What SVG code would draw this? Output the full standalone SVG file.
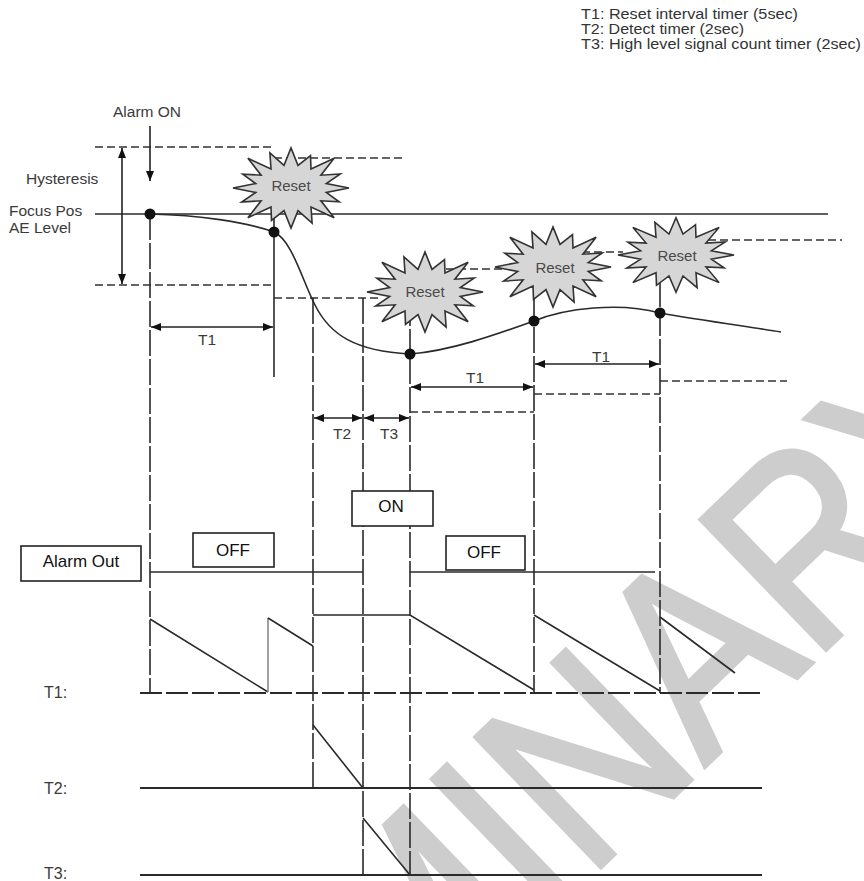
<svg xmlns="http://www.w3.org/2000/svg" width="864" height="881" viewBox="0 0 864 881">
<style>
.ln{stroke:#2a2a2a;stroke-width:1.6;fill:none}
.vl{stroke:#2a2a2a;stroke-width:1.6;fill:none;stroke-dasharray:26 3}
.ds{stroke:#333;stroke-width:1.6;fill:none;stroke-dasharray:8 4}
.bl{stroke:#2a2a2a;stroke-width:1.8;fill:none;stroke-dasharray:22 4}
.ar{stroke:#222;stroke-width:1.6;fill:none;marker-start:url(#ah);marker-end:url(#ah)}
.t{font-family:"Liberation Sans",Arial,sans-serif;font-size:15.5px;fill:#3a3a3a}
.lg{font-family:"Liberation Sans",Arial,sans-serif;font-size:14.5px;fill:#333}
.bx{fill:#fff;stroke:#222;stroke-width:1.6}
.bt{font-family:"Liberation Sans",Arial,sans-serif;font-size:17px;fill:#111;text-anchor:middle}
.burst{fill:#d6d6d6;stroke:#333;stroke-width:1.6;stroke-linejoin:miter}
.rt{font-family:"Liberation Sans",Arial,sans-serif;font-size:15px;fill:#4a4a4a;text-anchor:middle}
.dot{fill:#111}
.wm{font-family:"Liberation Sans",Arial,sans-serif;font-size:262px;fill:#cdcdcd;stroke:#cdcdcd;stroke-width:5;stroke-linejoin:miter}
</style>
<defs>
<marker id="ah" viewBox="0 0 10 8" refX="10" refY="4" markerWidth="10" markerHeight="8" markerUnits="userSpaceOnUse" orient="auto-start-reverse">
<path d="M0,0 L10,4 L0,8 Z" fill="#111"/>
</marker>
<path id="star" d="M58,0 L35.3,4.5 L48.2,13.8 L29.9,12.8 L43.1,29.7 L20,19.1 L21.1,35.1 L7,22.6 L0,40 L-7,22.6 L-19.5,32.5 L-20,19.1 L-43.1,29.7 L-29.9,12.8 L-49.3,14.1 L-35.3,4.5 L-58,0 L-35.3,-4.5 L-48.2,-13.8 L-29.9,-12.8 L-43.1,-29.7 L-20,-19.1 L-21.1,-35.1 L-7,-22.6 L0,-40 L7,-22.6 L19.5,-32.5 L20,-19.1 L43.1,-29.7 L29.9,-12.8 L49.3,-14.1 L35.3,-4.5 Z"/>
</defs>
<rect width="864" height="881" fill="#fff"/>

<g id="watermark">
<text class="wm" transform="translate(-61,1506) rotate(-44) scale(0.86,1)">PRELIMINARY</text>
</g>

<g id="legend">
<text class="lg" x="581" y="19" textLength="217" lengthAdjust="spacingAndGlyphs">T1: Reset interval timer (5sec)</text>
<text class="lg" x="581" y="34" textLength="163" lengthAdjust="spacingAndGlyphs">T2: Detect timer (2sec)</text>
<text class="lg" x="581" y="49" textLength="280" lengthAdjust="spacingAndGlyphs">T3: High level signal count timer (2sec)</text>
</g>

<g id="labels">
<text class="t" x="113" y="117">Alarm ON</text>
<text class="t" x="26" y="184">Hysteresis</text>
<text class="t" x="9" y="216">Focus Pos</text>
<text class="t" x="9" y="233">AE Level</text>
<text class="t" x="44" y="698" style="font-size:16px">T1:</text>
<text class="t" x="44" y="794" style="font-size:16px">T2:</text>
<text class="t" x="44" y="879" style="font-size:16px">T3:</text>
<text class="t" x="207" y="345" text-anchor="middle">T1</text>
<text class="t" x="342" y="439" text-anchor="middle">T2</text>
<text class="t" x="389" y="439" text-anchor="middle">T3</text>
<text class="t" x="475" y="383" text-anchor="middle">T1</text>
<text class="t" x="601" y="362" text-anchor="middle">T1</text>
</g>

<g id="connectors">
<line class="ln" x1="95" y1="214" x2="828" y2="214"/>
<line class="ds" x1="95" y1="147" x2="275" y2="147"/>
<line class="ds" x1="95" y1="285" x2="275" y2="285"/>
<line class="ds" x1="274" y1="158" x2="402" y2="158"/>
<line class="ds" x1="274" y1="298" x2="380" y2="298"/>
<line class="ds" x1="410" y1="269" x2="505" y2="269"/>
<line class="ds" x1="534" y1="252" x2="623" y2="252"/>
<line class="ds" x1="660" y1="240" x2="842" y2="240"/>
<line class="ds" x1="410" y1="412" x2="534" y2="412"/>
<line class="ds" x1="534" y1="394" x2="660" y2="394"/>
<line class="ds" x1="660" y1="381" x2="787" y2="381"/>
<line x1="150" y1="126" x2="150" y2="181" stroke="#222" stroke-width="1.6" marker-end="url(#ah)"/>
<line class="ar" x1="122" y1="148" x2="122" y2="284"/>
<line class="ar" x1="151" y1="327" x2="273" y2="327"/>
<line class="ar" x1="314" y1="418" x2="362" y2="418"/>
<line class="ar" x1="364" y1="418" x2="409" y2="418"/>
<line class="ar" x1="411" y1="387" x2="533" y2="387"/>
<line class="ar" x1="535" y1="364" x2="659" y2="364"/>
<line class="vl" x1="150" y1="214" x2="150" y2="693"/>
<line class="ln" x1="274" y1="158" x2="274" y2="377"/>
<line class="vl" x1="313" y1="298" x2="313" y2="788"/>
<line class="vl" x1="363" y1="298" x2="363" y2="875"/>
<line class="vl" x1="410" y1="300" x2="410" y2="875"/>
<line class="vl" x1="534" y1="269" x2="534" y2="693"/>
<line class="vl" x1="660" y1="252" x2="660" y2="693"/>
<path class="ln" d="M150,214 C200,215 245,222 274,232 C292,240 302,280 315,305 C330,335 355,351 410,354 C450,351 495,335 534,321 C565,308 620,302 660,313 C700,320 750,327 781,332"/>
<line class="ln" x1="150" y1="572" x2="363" y2="572"/>
<line class="ln" x1="410" y1="572" x2="655" y2="572"/>
<line class="bl" x1="140" y1="693" x2="762" y2="693"/>
<line class="ln" x1="140" y1="788" x2="762" y2="788" style="stroke-width:1.8"/>
<line class="ln" x1="140" y1="875" x2="762" y2="875" style="stroke-width:1.8"/>
<path class="ln" d="M150,619 L268,692"/>
<line x1="268" y1="692" x2="268" y2="618" stroke="#888" stroke-width="1.6"/>
<path class="ln" d="M268,618 L313,646 M313,615 H410 L534,690 M534,615 L660,691 M660,617 L735,673"/>
<path class="ln" d="M313,725 L363,788"/>
<path class="ln" d="M363,818 L410,875"/>
</g>

<g id="dots">
<circle class="dot" cx="150" cy="214" r="5.5"/>
<circle class="dot" cx="274" cy="232" r="5.5"/>
<circle class="dot" cx="410" cy="354" r="5.5"/>
<circle class="dot" cx="534" cy="321" r="5.5"/>
<circle class="dot" cx="660" cy="313" r="5.5"/>
</g>

<g id="reset1"><use href="#star" class="burst" transform="translate(291,188)"/><text class="rt" x="291" y="191">Reset</text></g>
<g id="reset2"><use href="#star" class="burst" transform="translate(425,292)"/><text class="rt" x="425" y="297">Reset</text></g>
<g id="reset3"><use href="#star" class="burst" transform="translate(553,267)"/><text class="rt" x="555" y="273">Reset</text></g>
<g id="reset4"><use href="#star" class="burst" transform="translate(676,255) scale(1,0.93)"/><text class="rt" x="677" y="261">Reset</text></g>

<g id="alarm-out"><rect class="bx" x="21" y="546" width="120" height="35"/><text class="bt" x="81" y="567">Alarm Out</text></g>
<g id="off1"><rect class="bx" x="193" y="533" width="81" height="34"/><text class="bt" x="233" y="556">OFF</text></g>
<g id="on"><rect class="bx" x="352" y="491" width="81" height="35"/><text class="bt" x="391" y="512">ON</text></g>
<g id="off2"><rect class="bx" x="446" y="536" width="79" height="34"/><text class="bt" x="484" y="558">OFF</text></g>
</svg>
